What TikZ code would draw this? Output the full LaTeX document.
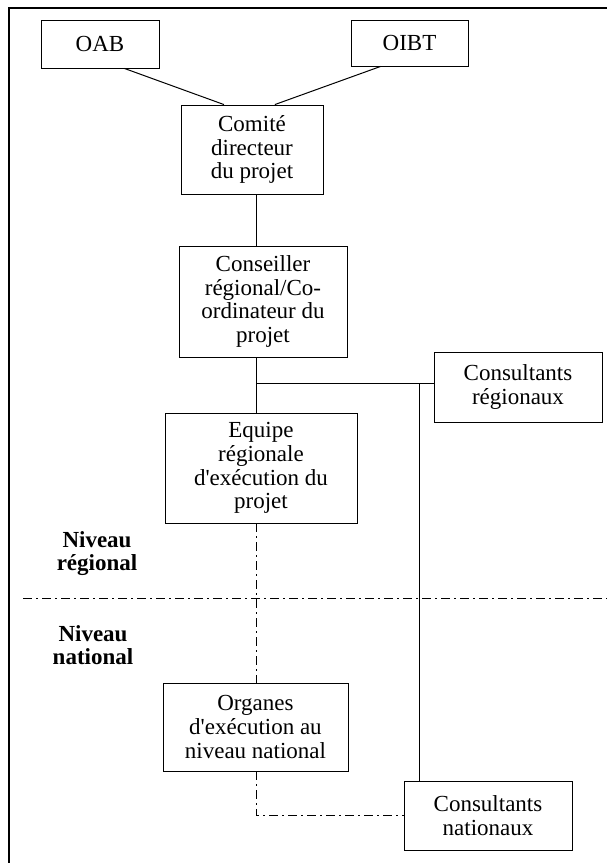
\documentclass[tikz,border=0pt]{standalone}
\usepackage{fontspec}
\setmainfont{Liberation Serif}
\usepackage{tikz}

\tikzset{ddline/.style={line width=1pt, dash pattern=on 9pt off 4pt on 2pt off 4pt}}

\begin{document}
\begin{tikzpicture}[x=1pt,y=-1pt]
\useasboundingbox (0,0) rectangle (607,863);
\draw[line width=2pt] (607,8) -- (9,8) -- (9,863);

\begin{scope}[every node/.style={rectangle,draw,line width=0.9pt,align=center,inner sep=0pt,font=\fontsize{23}{23.7}\selectfont}]
\node[minimum width=118,minimum height=48] (oab) at (100, 44) {OAB};
\node[minimum width=117,minimum height=46] (oibt) at (409.5, 43) {OIBT};
\node[minimum width=142,minimum height=89] (comite) at (252, 149.5) {Comité\\directeur\\du projet};
\node[minimum width=168,minimum height=111] (conseiller) at (263, 301.5) {Conseiller\\régional/Co-\\ordinateur du\\projet};
\node[minimum width=168,minimum height=70] (creg) at (518, 387) {Consultants\\régionaux};
\node[minimum width=192,minimum height=110] (equipe) at (261, 468) {Equipe\\régionale\\d\textquotesingle exécution du\\projet};
\node[minimum width=185,minimum height=88] (organes) at (255.5, 727) {Organes\\d\textquotesingle exécution au\\niveau national};
\node[minimum width=168,minimum height=69] (cnat) at (488, 815.5) {Consultants\\nationaux};
\end{scope}

\node[align=center,font=\fontsize{23}{23}\selectfont\bfseries] (nreg) at (97, 554) {Niveau\\régional};
\node[align=center,font=\fontsize{23}{23}\selectfont\bfseries] (nnat) at (93, 645.5) {Niveau\\national};

\coordinate (spine) at (256.5, 0);
\coordinate (tee) at (256.5, 383);
\coordinate (drop) at (419, 383);
\coordinate (sepL) at (23, 598);
\coordinate (sepR) at (607, 598);

\draw[line width=1pt] (oab.-45) -- (comite.122);
\draw[line width=1pt] (oibt.219) -- (comite.63);
\draw[line width=1pt] (comite.south -| spine) -- (conseiller.north -| spine);
\draw[line width=1pt] (conseiller.south -| spine) -- (equipe.north -| spine);
\draw[line width=1pt] (tee) -- (creg.west |- tee);
\draw[line width=1pt] (drop) -- (drop |- cnat.north);

\draw[ddline] (equipe.south -| spine) -- (organes.north -| spine);
\draw[ddline] (organes.south -| spine) |- (cnat.west);
\draw[ddline] (sepL) -- (sepR);

\end{tikzpicture}
\end{document}
